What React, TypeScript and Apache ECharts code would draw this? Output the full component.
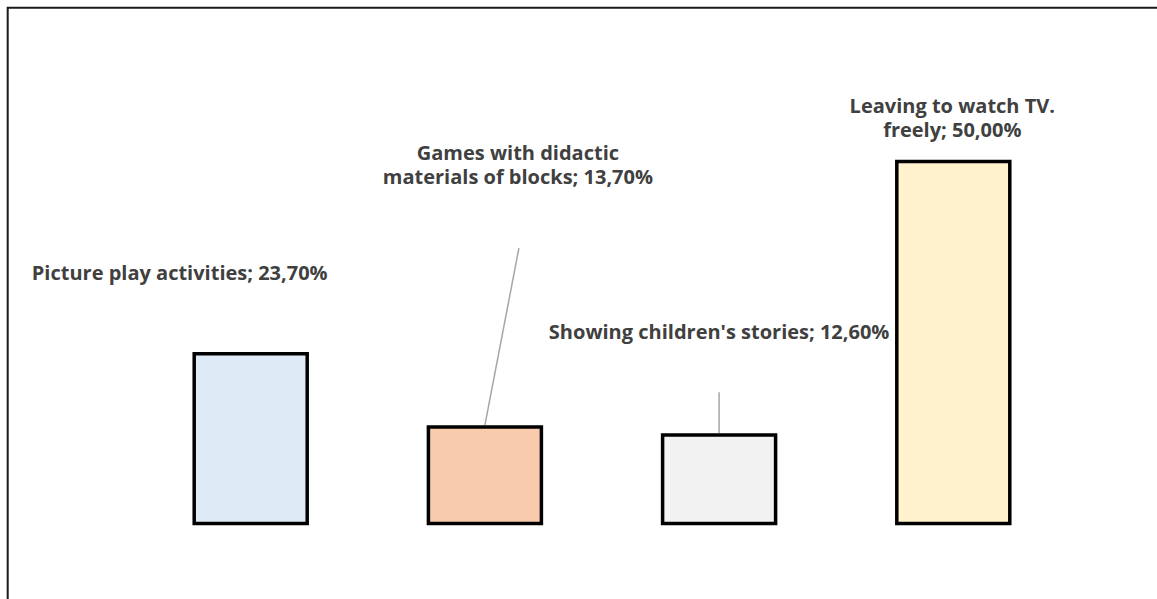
import React, { useEffect, useRef } from "react";
import * as echarts from "echarts";

// Activity categories and their shares (percent)
const categories = [
  "Picture play activities",
  "Games with didactic\nmaterials of blocks",
  "Showing children's stories",
  "Leaving to watch TV.\nfreely",
];
const shares = [23.7, 13.7, 12.6, 50.0];
const fills = ["#DEEBF7", "#F8CBAD", "#F2F2F2", "#FFF2CC"];

// Label offsets from each bar's top centre
const labelOffsets: [number, number][] = [
  [-71, -68],
  [33, -237],
  [0, -90],
  [-1, -18],
];
// Leader line end points relative to each bar's top centre (null: no leader)
const leaderEnds: ([number, number] | null)[] = [null, [34, -177], [0, -41], null];

const fmt = (v: number) => v.toFixed(2).replace(".", ",") + "%";

export default function App() {
  const ref = useRef<HTMLDivElement>(null);

  useEffect(() => {
    if (!ref.current) return;
    const chart = echarts.init(ref.current, undefined, { renderer: "svg" });
    chart.setOption({
      animation: false,
      backgroundColor: "#ffffff",
      grid: { left: 133.6, right: 86.6, top: 86.7, bottom: 73.7 },
      xAxis: {
        type: "category",
        data: categories,
        show: false,
      },
      yAxis: {
        type: "value",
        min: 0,
        max: 60,
        show: false,
        splitLine: { show: false },
      },
      series: [
        {
          type: "bar",
          barWidth: 116.5,
          itemStyle: { borderColor: "#000000", borderWidth: 3.5 },
          label: {
            show: true,
            position: "top",
            distance: 0,
            align: "center",
            fontFamily: "Open Sans",
            fontWeight: "bold",
            fontSize: 20,
            lineHeight: 24,
            color: "#404040",
            formatter: (p: any) => `${p.name}; ${fmt(p.value)}`,
          },
          data: shares.map((v, i) => ({
            value: v,
            itemStyle: { color: fills[i] },
            label: { offset: labelOffsets[i] },
          })),
        },
      ],
    });

    // Leader lines from the bar tops towards their labels, plus the outer frame
    const leaders: any[] = [];
    shares.forEach((v, i) => {
      const end = leaderEnds[i];
      if (!end) return;
      const [x, y] = chart.convertToPixel({ seriesIndex: 0 }, [i, v]) as number[];
      leaders.push({
        type: "line",
        shape: { x1: x, y1: y, x2: x + end[0], y2: y + end[1] },
        style: { stroke: "#A6A6A6", lineWidth: 1.5 },
        z: 1,
      });
    });
    chart.setOption({
      graphic: [
        {
          type: "rect",
          shape: { x: 7.7, y: 7.7, width: 1300, height: 800 },
          style: { fill: "none", stroke: "#1a1a1a", lineWidth: 2 },
          silent: true,
        },
        ...leaders,
      ],
    });

    return () => chart.dispose();
  }, []);

  return (
    <div
      ref={ref}
      style={{ position: "fixed", left: 0, top: 0, width: 1157, height: 599 }}
    />
  );
}
